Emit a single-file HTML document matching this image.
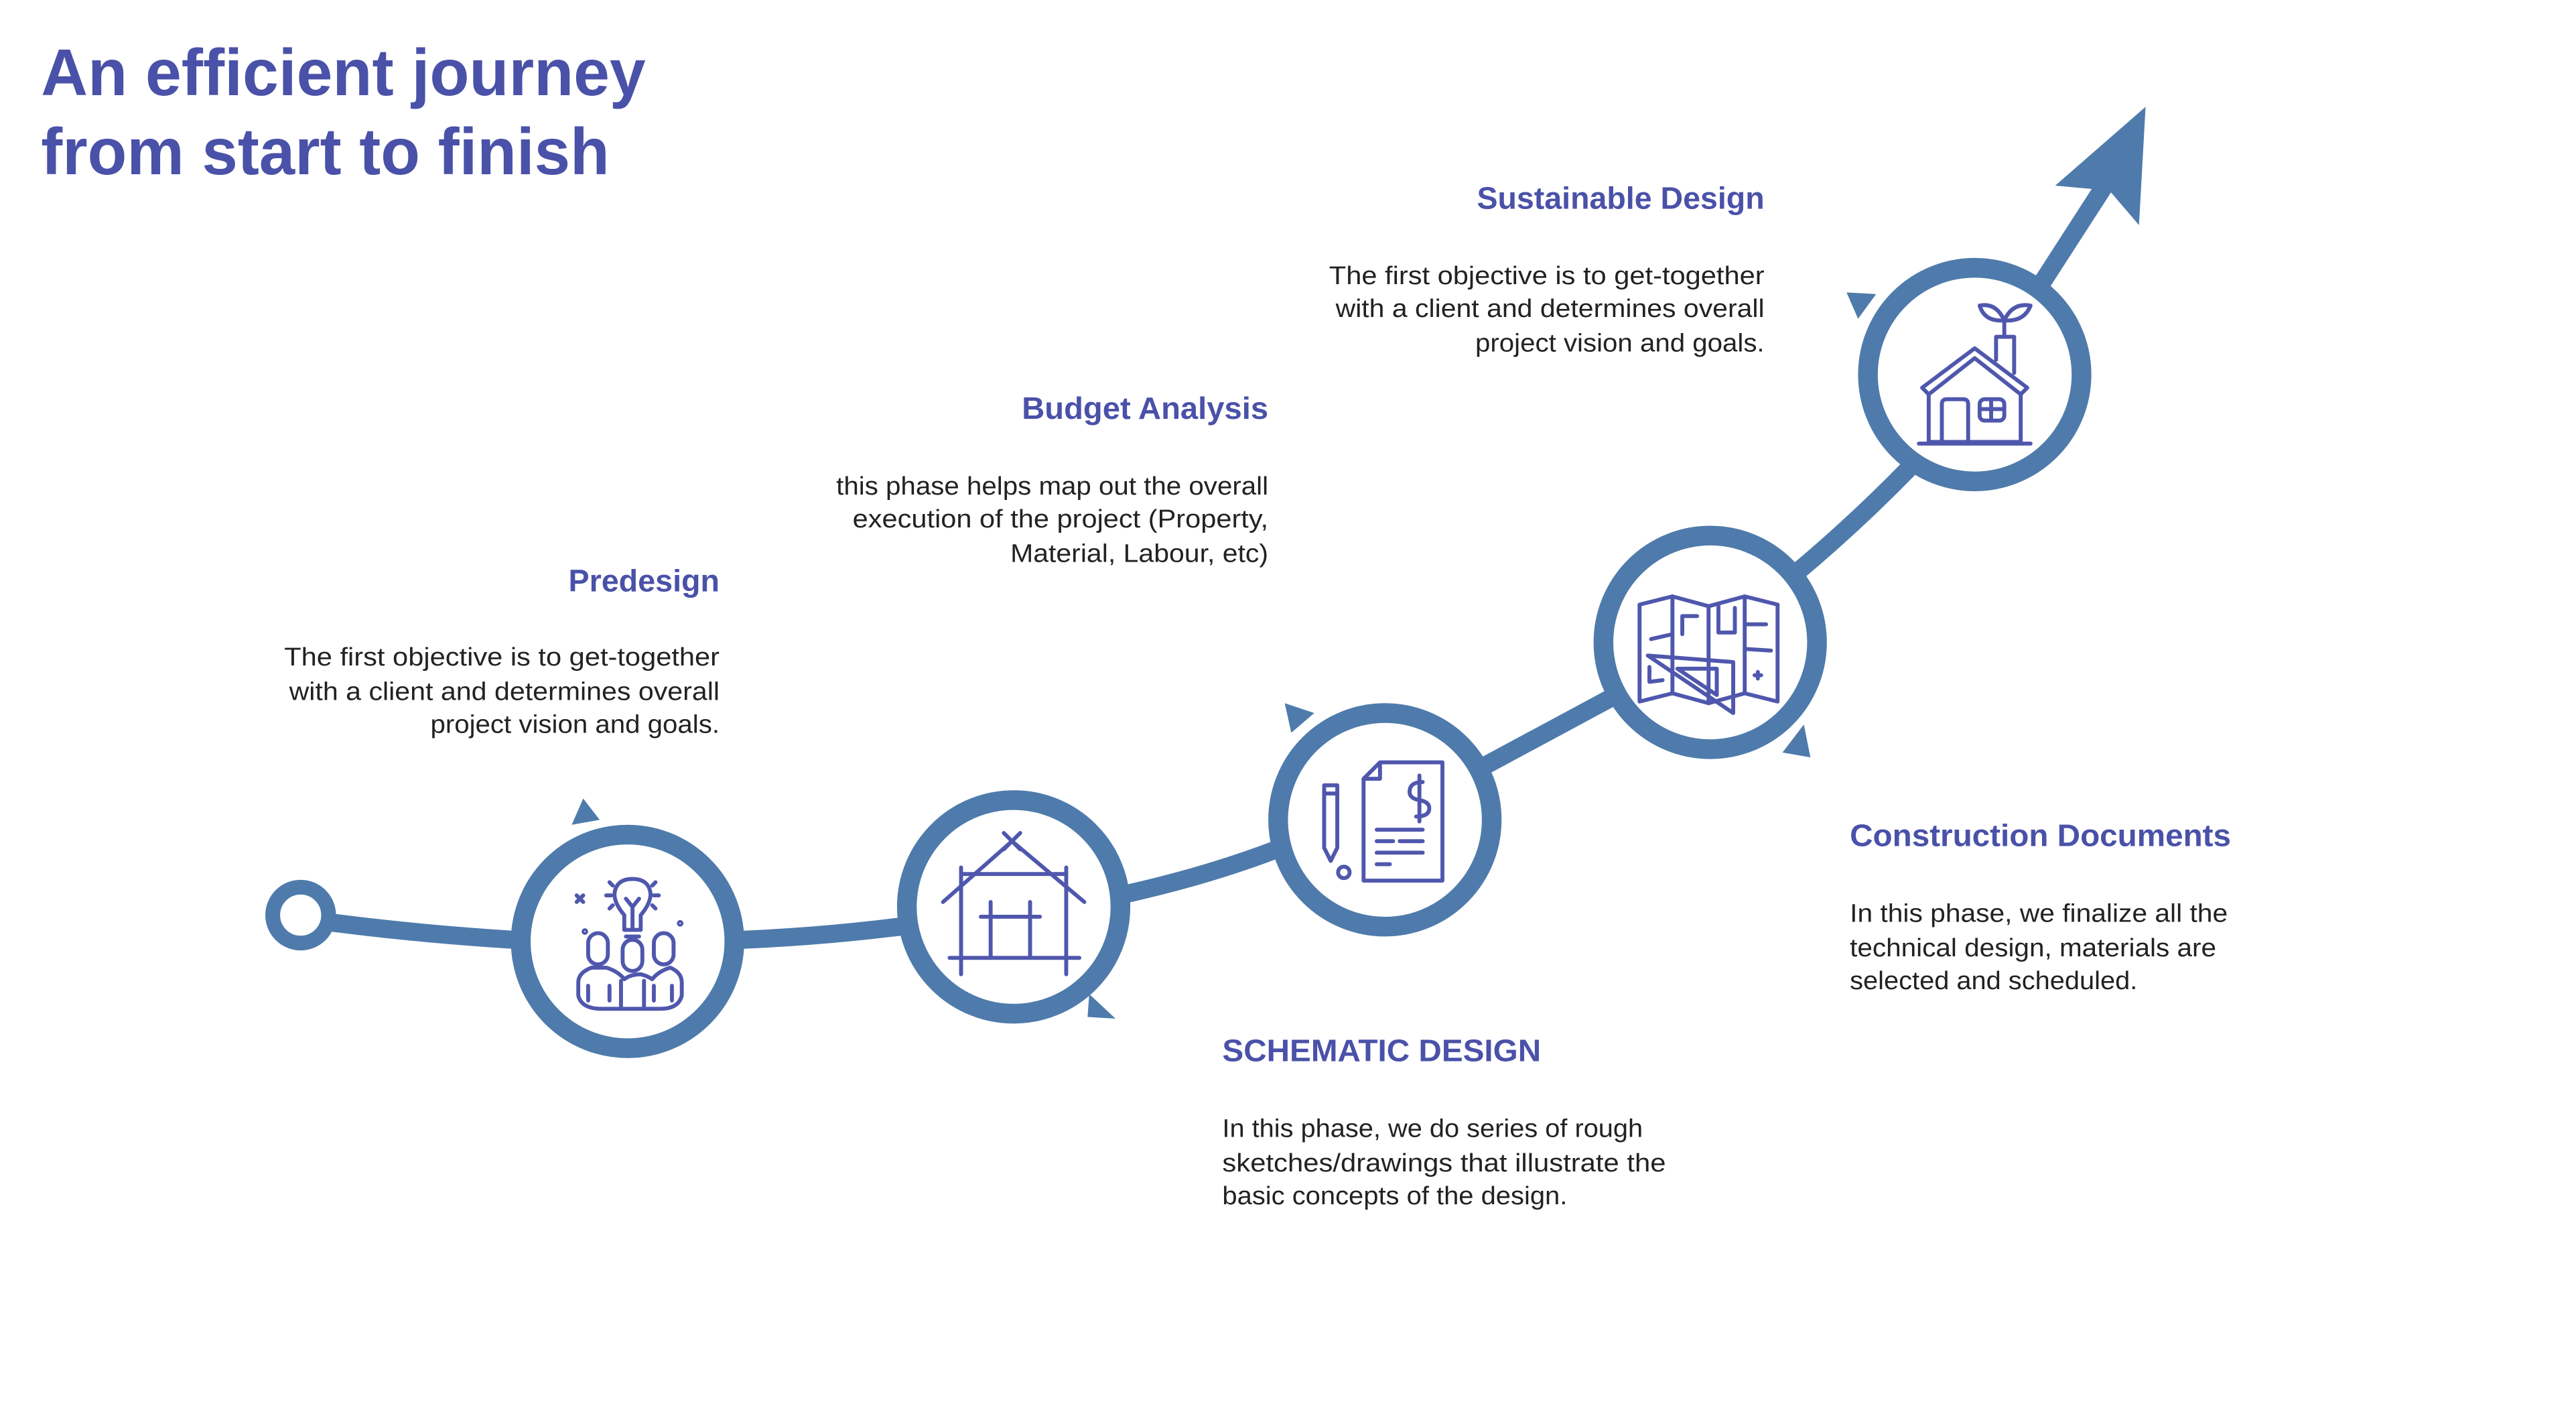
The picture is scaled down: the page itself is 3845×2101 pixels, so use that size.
<!DOCTYPE html>
<html><head><meta charset="utf-8"><style>
html,body{margin:0;padding:0;background:#fff;}
svg{display:block;}
.h{font-family:"Liberation Sans",sans-serif;font-weight:bold;fill:#4a51a8;}
.b{font-family:"Liberation Sans",sans-serif;fill:#222;font-size:15.5px;}
.r{fill:none;stroke:#4e7bab;}
.i{fill:none;stroke:#4f57ad;stroke-width:2.4;stroke-linecap:round;stroke-linejoin:round;}
</style></head><body>
<svg width="3845" height="2101" viewBox="0 0 1568 857" preserveAspectRatio="none" xmlns="http://www.w3.org/2000/svg">
<rect width="1568" height="857" fill="#fff"/>
<!-- title -->
<text class="h" x="25" y="58" font-size="40" textLength="368" lengthAdjust="spacingAndGlyphs">An efficient journey</text>
<text class="h" x="25" y="106" font-size="40" textLength="346" lengthAdjust="spacingAndGlyphs">from start to finish</text>

<!-- path -->
<g class="r" stroke-width="11" stroke-linecap="butt">
<path d="M198,561 Q250,568 312,572"/>
<path d="M452,572 Q500,570 548,564"/>
<path d="M686,544 Q735,533 777,517"/>
<path d="M904,466 Q945,444 982,424"/>
<path d="M1093,349 Q1130,318 1163,284"/>
<path d="M1243,172 L1283,110"/>
</g>
<polygon points="1306,65 1302,137 1284,116 1251,113" fill="#4e7bab"/>
<circle cx="183" cy="557" r="17" fill="#fff" stroke="#4e7bab" stroke-width="9"/>

<!-- pointer triangles -->
<g fill="#4e7bab">
<polygon points="355,486 365,499 348,502"/>
<polygon points="663,605 679,620 662,619"/>
<polygon points="782,428 800,434 786,446"/>
<polygon points="1098,441 1102,461 1085,458"/>
<polygon points="1124,178 1142,179 1131,194"/>
</g>

<!-- circles -->
<g class="r" stroke-width="12" fill="#fff">
<circle cx="382" cy="573" r="65" fill="#fff"/>
<circle cx="617" cy="552" r="65" fill="#fff"/>
<circle cx="843" cy="499" r="65" fill="#fff"/>
<circle cx="1041" cy="391" r="65" fill="#fff"/>
<circle cx="1202" cy="228" r="65" fill="#fff"/>
</g>

<!-- icon 1: idea team -->
<g class="i">
<path d="M380,557 Q374,550 374,544 Q375,535 385,535 Q395,535 396,544 Q396,550 390,557 L390,566 L380,566 Z"/>
<path d="M381,547 L385,552 L389,547 M385,552 L385,566 M381,570 L389,570"/>
<path d="M369,545 L372,545 M398,545 L401,545 M371,537 L373,539 M399,537 L397,539 M371,553 L373,551 M399,553 L397,551"/>
<path d="M351,545 L355,549 M355,545 L351,549"/>
<circle cx="356" cy="567" r="0.8"/><circle cx="414" cy="562" r="0.8"/>
<rect x="358" y="568" width="12" height="19" rx="6"/>
<rect x="379" y="572" width="12" height="19" rx="6"/>
<rect x="398" y="568" width="12" height="19" rx="6"/>
<path d="M352,598 Q352,592 360,589 L369,589 Q376,591 380,596 Q384,593 390,593 Q394,594 397,596 Q401,591 408,589 Q415,592 415,598 L415,606 Q413,614 402,614 L366,614 Q354,614 352,606 Z"/>
<path d="M378,597 L378,614 M392,597 L392,614 M358,600 L358,609 M371,600 L371,609 M398,600 L398,609 M409,600 L409,609"/>
</g>

<!-- icon 2: house frame -->
<g class="i" stroke-width="2.6">
<path d="M574,549 L616,512 L660,549"/>
<path d="M611,507 L621,517 M621,507 L611,517"/>
<path d="M585,528 L585,593 M649,528 L649,593"/>
<path d="M585,532 L649,532"/>
<path d="M578,583 L657,583"/>
<path d="M603,549 L603,583 M627,549 L627,583 M597,558 L633,558"/>
</g>

<!-- icon 3: document / pencil -->
<g class="i">
<path d="M840,464 L878,464 L878,536 L830,536 L830,474 Z M830,474 L840,474 L840,464"/>
<path d="M806,478 L814,478 L814,516 L810,524 L806,516 Z M806,483 L814,483"/>
<circle cx="818" cy="531" r="3.5"/>
<path d="M866,476 Q858,476 858,482 Q858,486 864,487 Q870,488 870,492 Q870,497 862,497 M864,472 L864,500"/>
<path d="M838,505 L866,505 M838,512 L848,512 M852,512 L866,512 M838,519 L866,519 M838,526 L846,526"/>
</g>

<!-- icon 4: map -->
<g class="i">
<path d="M998,368 L1018,363 L1040,369 L1062,363 L1082,368 L1082,427 L1062,422 L1040,428 L1018,422 L998,427 Z"/>
<path d="M1018,363 L1018,422 M1040,369 L1040,428 M1062,363 L1062,422"/>
<path d="M1005,389 L1018,386 M1024,386 L1024,375 L1033,375 M1046,369 L1046,385 L1056,385 L1056,370 M1062,380 L1075,380 M1062,395 L1078,396 M1004,406 L1004,415 L1012,414"/>
<path d="M1003,399 L1055,434 L1055,403 Z M1021,407 L1045,423 L1045,407 Z"/>
<path d="M1068,411 L1072,411 M1070,409 L1070,413"/>
</g>

<!-- icon 5: eco house -->
<g class="i">
<path d="M1170,236 L1202,212 L1234,236 L1230,240 L1202,218 L1174,240 Z"/>
<path d="M1174,240 L1174,269 L1230,269 L1230,240"/>
<path d="M1168,270 L1236,270"/>
<path d="M1182,269 L1182,246 Q1182,243 1185,243 L1195,243 Q1198,243 1198,246 L1198,269"/>
<rect x="1205" y="243" width="15" height="13" rx="3"/>
<path d="M1212,243 L1212,256 M1205,249 L1220,249"/>
<path d="M1215,219 L1215,205 L1226,205 L1226,227"/>
<path d="M1220,205 L1220,195 M1220,195 Q1208,196 1205,186 Q1215,184 1220,195 Q1225,184 1236,186 Q1232,196 1220,195"/>
</g>

<!-- Predesign -->
<text class="h" x="438" y="360" font-size="19" text-anchor="end" textLength="92" lengthAdjust="spacingAndGlyphs">Predesign</text>
<text class="b" x="438" y="405" text-anchor="end" textLength="265" lengthAdjust="spacingAndGlyphs">The first objective is to get-together</text>
<text class="b" x="438" y="426" text-anchor="end" textLength="262" lengthAdjust="spacingAndGlyphs">with a client and determines overall</text>
<text class="b" x="438" y="446" text-anchor="end" textLength="176" lengthAdjust="spacingAndGlyphs">project vision and goals.</text>

<!-- Budget Analysis -->
<text class="h" x="772" y="255" font-size="19" text-anchor="end" textLength="150" lengthAdjust="spacingAndGlyphs">Budget Analysis</text>
<text class="b" x="772" y="301" text-anchor="end" textLength="263" lengthAdjust="spacingAndGlyphs">this phase helps map out the overall</text>
<text class="b" x="772" y="321" text-anchor="end" textLength="253" lengthAdjust="spacingAndGlyphs">execution of the project (Property,</text>
<text class="b" x="772" y="342" text-anchor="end" textLength="157" lengthAdjust="spacingAndGlyphs">Material, Labour, etc)</text>

<!-- Sustainable Design -->
<text class="h" x="1074" y="127" font-size="19" text-anchor="end" textLength="175" lengthAdjust="spacingAndGlyphs">Sustainable Design</text>
<text class="b" x="1074" y="173" text-anchor="end" textLength="265" lengthAdjust="spacingAndGlyphs">The first objective is to get-together</text>
<text class="b" x="1074" y="193" text-anchor="end" textLength="261" lengthAdjust="spacingAndGlyphs">with a client and determines overall</text>
<text class="b" x="1074" y="214" text-anchor="end" textLength="176" lengthAdjust="spacingAndGlyphs">project vision and goals.</text>

<!-- Schematic -->
<text class="h" x="744" y="646" font-size="19" textLength="194" lengthAdjust="spacingAndGlyphs">SCHEMATIC DESIGN</text>
<text class="b" x="744" y="692" textLength="256" lengthAdjust="spacingAndGlyphs">In this phase, we do series of rough</text>
<text class="b" x="744" y="713" textLength="270" lengthAdjust="spacingAndGlyphs">sketches/drawings that illustrate the</text>
<text class="b" x="744" y="733" textLength="210" lengthAdjust="spacingAndGlyphs">basic concepts of the design.</text>

<!-- Construction -->
<text class="h" x="1126" y="515" font-size="19" textLength="232" lengthAdjust="spacingAndGlyphs">Construction Documents</text>
<text class="b" x="1126" y="561" textLength="230" lengthAdjust="spacingAndGlyphs">In this  phase, we finalize all the</text>
<text class="b" x="1126" y="582" textLength="223" lengthAdjust="spacingAndGlyphs">technical design, materials are</text>
<text class="b" x="1126" y="602" textLength="175" lengthAdjust="spacingAndGlyphs">selected and scheduled.</text>
</svg>
</body></html>
